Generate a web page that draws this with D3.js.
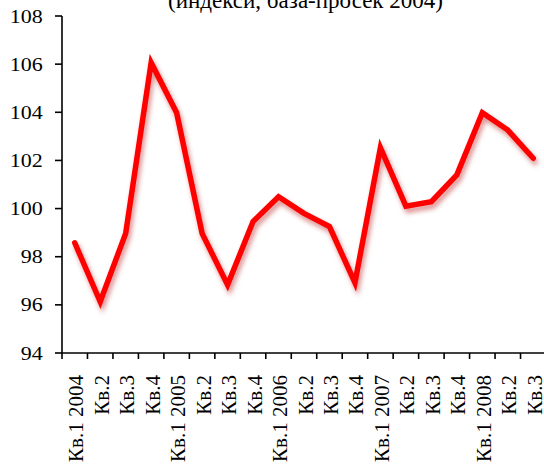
<!DOCTYPE html>
<html><head><meta charset="utf-8">
<script src="https://cdn.jsdelivr.net/npm/d3@7"></script>
</head><body style="margin:0">
<svg id="c" width="544" height="466" style="display:block">
<text id="ttl" x="305.5" y="8" text-anchor="middle" font-family="Liberation Serif" font-size="23" textLength="275" lengthAdjust="spacingAndGlyphs"></text>
</svg>
<script>
const categories = ["Кв.1 2004","Кв.2","Кв.3","Кв.4","Кв.1 2005","Кв.2","Кв.3","Кв.4","Кв.1 2006","Кв.2","Кв.3","Кв.4","Кв.1 2007","Кв.2","Кв.3","Кв.4","Кв.1 2008","Кв.2","Кв.3"];
const values = [98.58, 96.13, 98.97, 106.06, 103.98, 98.97, 96.83, 99.46, 100.49, 99.8, 99.25, 96.92, 102.53, 100.1, 100.29, 101.4, 103.98, 103.26, 102.09];
const yTicks = [94, 96, 98, 100, 102, 104, 106, 108];
const title = "(индекси, база-просек 2004)";

const FONT = "Liberation Serif";
const svg = d3.select("#c");
const mLeft = 62, mRight = 546, mTop = 16, mBottom = 353;
const keys = categories.map((d,i)=>i);
const x = d3.scaleBand().domain(keys).range([mLeft, mRight]);
const y = d3.scaleLinear().domain([94,108]).range([mBottom, mTop]);

const defs = svg.append("defs");
const f = defs.append("filter").attr("id","sh").attr("x","-20%").attr("y","-20%").attr("width","140%").attr("height","140%");
f.append("feDropShadow").attr("dx",2).attr("dy",4).attr("stdDeviation",2.5)
 .attr("flood-color","#b00000").attr("flood-opacity",0.45);

d3.select("#ttl").text(title);

const yG = svg.append("g").attr("transform",`translate(${mLeft},0)`);
yG.append("path").attr("d",`M0,${mTop}V${mBottom}`).attr("stroke","#000").attr("stroke-width",1.6).attr("fill","none");
const yt = yG.selectAll("g.tick").data(yTicks).join("g").attr("class","tick").attr("transform",d=>`translate(0,${y(d)})`);
yt.append("line").attr("x1",-7).attr("x2",0).attr("stroke","#000").attr("stroke-width",1.6);
yt.append("text").attr("x",-19.3).attr("dy","0.34em").attr("text-anchor","end")
  .attr("font-family",FONT).attr("font-size",19.5).attr("fill","#000")
  .attr("textLength",d=>String(d).length*11).attr("lengthAdjust","spacingAndGlyphs")
  .text(d=>d);

const xAxis = svg.append("g").attr("transform",`translate(0,${mBottom})`);
xAxis.append("path").attr("d",`M${mLeft},0H${mRight}`).attr("stroke","#000").attr("stroke-width",1.6);
xAxis.selectAll("line.t").data(d3.range(categories.length+1)).join("line").attr("class","t")
  .attr("x1",i=> i<categories.length ? x(i) : mRight).attr("x2",i=> i<categories.length ? x(i) : mRight)
  .attr("y1",0).attr("y2",6).attr("stroke","#000").attr("stroke-width",1.6);
xAxis.selectAll("text").data(categories).join("text")
  .attr("transform",(d,i)=>`translate(${x(i)+x.bandwidth()/2+8.5},22) rotate(-90)`)
  .attr("text-anchor","end")
  .attr("font-family",FONT).attr("font-size",21).attr("fill","#000")
  .text(d=>d);

const line = d3.line().x((d,i)=>x(i)+x.bandwidth()/2).y(d=>y(d));
svg.append("path").datum(values).attr("d",line).attr("fill","none")
  .attr("stroke","#ff0000").attr("stroke-width",5.5).attr("stroke-linejoin","miter").attr("stroke-linecap","round")
  .attr("filter","url(#sh)");
</script>
</body></html>
